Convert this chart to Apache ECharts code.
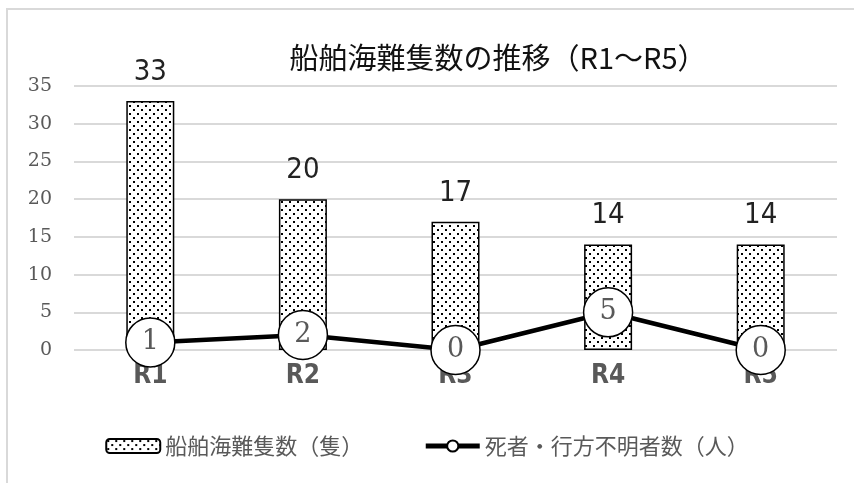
<!DOCTYPE html>
<html><head><meta charset="utf-8">
<script src="https://cdn.jsdelivr.net/npm/echarts@6/dist/echarts.min.js"></script>
<style>html,body{margin:0;padding:0;background:#fff}#c{width:854px;height:483px}</style>
</head><body><div id="c"></div>
<script>
var categories = ['R1', 'R2', 'R3', 'R4', 'R5'];
var shipCounts = [33, 20, 17, 14, 14];
var casualties = [1, 2, 0, 5, 0];
var yTicks = [0, 5, 10, 15, 20, 25, 30, 35];
var titleText = '船舶海難隻数の推移（R1～R5）';
var barName = '船舶海難隻数（隻）';
var lineName = '死者・行方不明者数（人）';

var tile = document.createElement('canvas');
tile.width = 8; tile.height = 8;
var tc = tile.getContext('2d');
tc.fillStyle = '#fff'; tc.fillRect(0, 0, 8, 8);
tc.fillStyle = '#000';
tc.fillRect(1, 1, 2, 2);
tc.fillRect(5, 5, 2, 2);
var pattern = { image: tile, repeat: 'repeat' };

var narrow = '"DejaVu Sans Condensed", "Liberation Sans Narrow", Roboto, sans-serif';
var chart = echarts.init(document.getElementById('c'), null, {renderer: 'canvas'});
var gray = '#595959';
chart.setOption({
  animation: false,
  backgroundColor: '#fff',
  graphic: [{
    type: 'rect', z: -1,
    shape: {x: 7, y: 9, width: 900, height: 520},
    style: {fill: 'none', stroke: '#d9d9d9', lineWidth: 2}
  }],
  title: {
    text: titleText, left: 493, top: 38, textAlign: 'center',
    textStyle: {fontFamily: 'Noto Sans CJK JP', fontSize: 29, fontWeight: 'normal', color: '#111'}
  },
  legend: {
    left: 'center', top: 430, itemGap: 60, itemWidth: 54, itemHeight: 14,
    textStyle: {fontFamily: 'Noto Sans CJK JP', fontSize: 22, color: gray},
    data: [{name: barName}, {name: lineName, lineStyle: {width: 5, color: '#000'}, itemStyle: {borderWidth: 2}}]
  },
  grid: {left: 74, right: 17, top: 86, bottom: 133, containLabel: false},
  xAxis: {
    type: 'category', data: categories,
    axisLine: {show: false}, axisTick: {show: false},
    axisLabel: {margin: 13, fontFamily: narrow, fontWeight: 'bold', fontSize: 26, color: gray}
  },
  yAxis: {
    type: 'value', min: yTicks[0], max: yTicks[yTicks.length - 1], interval: 5,
    axisLine: {show: false}, axisTick: {show: false},
    axisLabel: {margin: 22, fontFamily: 'DejaVu Serif, Liberation Serif', fontSize: 19, color: gray},
    splitLine: {lineStyle: {color: '#d9d9d9', width: 2}}
  },
  series: [{
    name: barName, type: 'bar', data: shipCounts, barWidth: 48, z: 2,
    itemStyle: {color: pattern, borderColor: '#000', borderWidth: 1.5},
    label: {show: true, position: 'top', distance: 14, fontFamily: narrow, fontWeight: 'normal', fontSize: 29, color: '#222'}
  }, {
    name: lineName, type: 'line', data: casualties, z: 5,
    symbol: 'circle', symbolSize: 49,
    lineStyle: {color: '#000', width: 4.5},
    itemStyle: {color: '#fff', borderColor: '#000', borderWidth: 1.5},
    label: {show: true, position: 'inside', fontFamily: 'DejaVu Serif, Liberation Serif', fontSize: 27, color: gray}
  }]
});
</script></body></html>
